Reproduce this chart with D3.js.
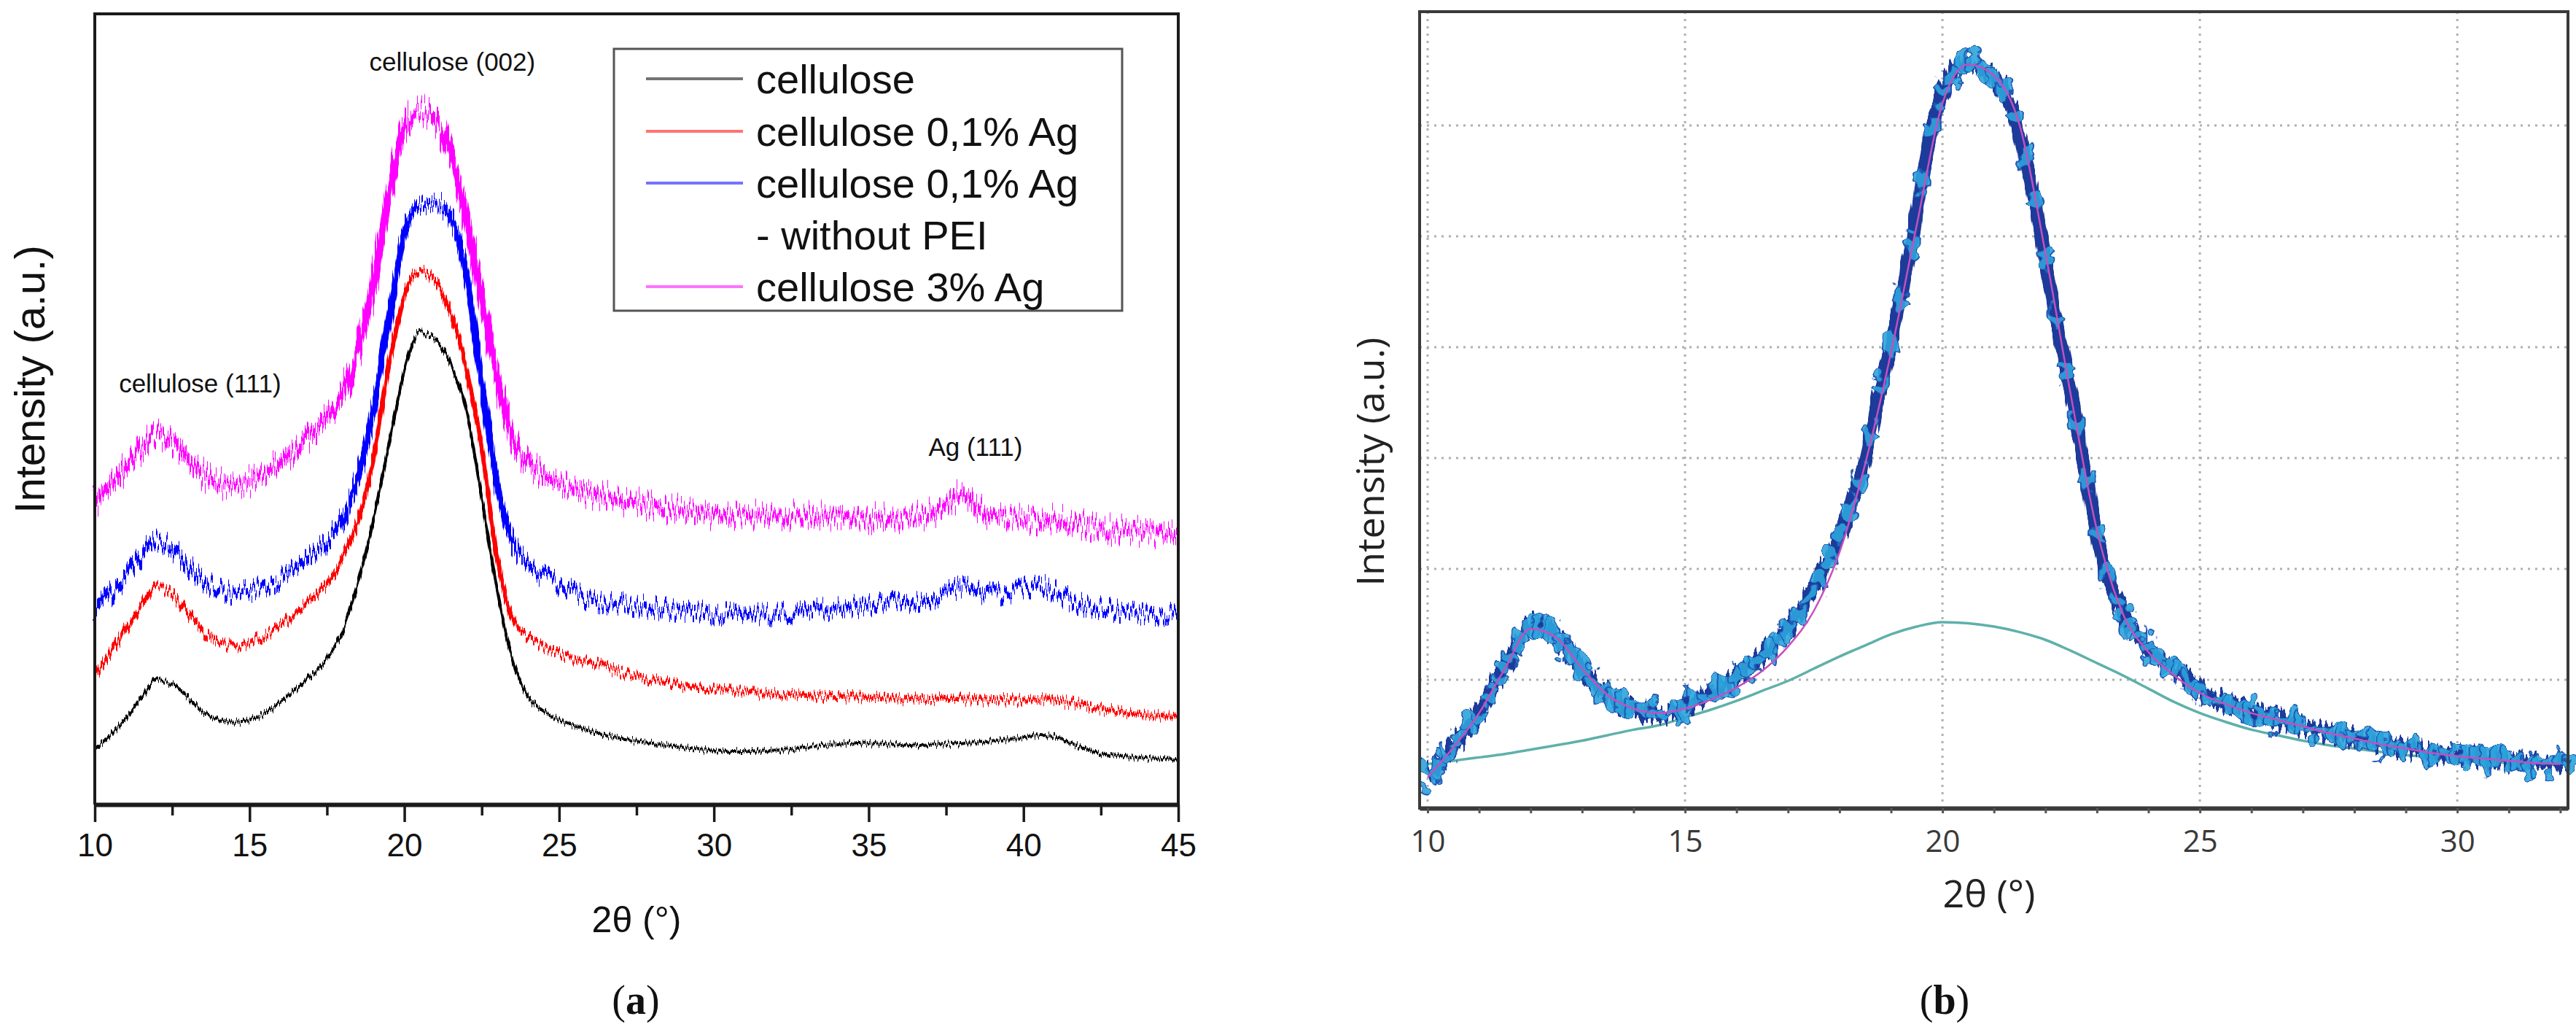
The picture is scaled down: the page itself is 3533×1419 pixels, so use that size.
<!DOCTYPE html>
<html>
<head>
<meta charset="utf-8">
<script src="https://cdn.jsdelivr.net/npm/d3@7"></script>
<style>
  html, body { margin: 0; padding: 0; background: #fff; }
  svg { display: block; }
</style>
</head>
<body>
<script>
// ---------- Data: panel (a), XRD patterns, 2θ sampled every 0.5° ----------
const twoThetaA = d3.range(20, 91).map((i) => i / 2); // 10 ... 45

const cellulose = [
  75, 95, 118, 146, 171, 165, 147, 127, 116, 113, 116, 125, 141, 158, 178, 201, 237, 303, 391, 493,
  595, 648, 638, 603, 540, 421, 293, 198, 148, 128, 116, 108, 101, 95, 91, 87, 84, 81, 78, 76,
  74, 73, 73, 73, 74, 76, 79, 81, 83, 84, 84, 83, 82, 81, 82, 83, 84, 85, 87, 89,
  92, 95, 93, 85, 76, 70, 67, 65, 64, 63, 62,
];
const celluloseAg01 = [
  178, 208, 241, 273, 298, 288, 263, 238, 223, 218, 223, 233, 246, 263, 281, 303, 338, 388, 473, 603,
  698, 731, 718, 673, 598, 488, 338, 253, 231, 218, 207, 200, 195, 189, 181, 175, 171, 167, 164, 161,
  158, 157, 155, 153, 151, 150, 149, 148, 148, 148, 147, 147, 146, 145, 145, 145, 145, 144, 144, 144,
  143, 144, 143, 140, 136, 131, 128, 125, 123, 121, 120,
];
const celluloseAg01NoPEI = [
  263, 288, 313, 341, 361, 351, 328, 308, 295, 290, 293, 301, 309, 323, 341, 361, 391, 448, 543, 663,
  783, 821, 825, 803, 728, 578, 438, 358, 328, 313, 302, 290, 281, 277, 275, 273, 270, 268, 266, 264,
  262, 261, 260, 260, 261, 263, 265, 267, 269, 271, 273, 275, 277, 280, 283, 291, 297, 293, 288, 291,
  297, 300, 293, 281, 273, 269, 266, 264, 262, 261, 260,
];
const celluloseAg3 = [
  416, 438, 463, 488, 506, 495, 473, 453, 441, 438, 443, 455, 468, 488, 510, 533, 563, 623, 713, 838,
  928, 952, 938, 888, 803, 693, 583, 503, 468, 451, 441, 433, 427, 422, 418, 414, 410, 406, 403, 400,
  398, 397, 396, 396, 396, 396, 396, 395, 395, 394, 393, 392, 392, 394, 400, 411, 425, 408, 395, 393,
  392, 391, 390, 387, 383, 379, 376, 375, 374, 373, 372,
];

const seriesNamesA = ['cellulose', 'cellulose 0,1% Ag', 'cellulose 0,1% Ag', 'cellulose 3% Ag'];
const seriesColorsA = ['#000000', '#ff0000', '#0000ff', '#ff00ff'];
const peakLabels = ['cellulose (111)', 'cellulose (002)', 'Ag (111)'];
const peakPositions = [13.4, 21.55, 38.45];
const peakHeights = [565, 1006, 478];
const ticksA = [10, 15, 20, 25, 30, 35, 40, 45];
const minorTicksA = [12.5, 17.5, 22.5, 27.5, 32.5, 37.5, 42.5];

// ---------- Data: panel (b), peak fit of cellulose, 2θ every 0.2° ----------
const twoThetaB = d3.range(50, 162).map((i) => i / 5); // 10.0 ... 32.2
const measured = [
  0.14, 0.21, 0.33, 0.45, 0.57, 0.70, 0.87, 1.04, 1.20, 1.38,
  1.50, 1.49, 1.43, 1.34, 1.23, 1.11, 0.99, 0.90, 0.83, 0.78,
  0.74, 0.71, 0.69, 0.69, 0.72, 0.77, 0.81, 0.86, 0.90, 0.95,
  1.02, 1.09, 1.17, 1.26, 1.36, 1.47, 1.59, 1.74, 1.90, 2.08,
  2.30, 2.55, 2.83, 3.22, 3.65, 4.02, 4.45, 4.95, 5.50, 5.98,
  6.30, 6.47, 6.55, 6.55, 6.50, 6.42, 6.32, 6.08, 5.72, 5.30,
  4.80, 4.25, 3.80, 3.32, 2.80, 2.30, 1.95, 1.70, 1.52, 1.39,
  1.28, 1.20, 1.13, 1.06, 0.97, 0.90, 0.85, 0.81, 0.78, 0.75,
  0.72, 0.69, 0.66, 0.63, 0.60, 0.58, 0.56, 0.54, 0.52, 0.50,
  0.48, 0.46, 0.44, 0.42, 0.40, 0.38, 0.37, 0.36, 0.34, 0.33,
  0.32, 0.31, 0.30, 0.29, 0.28, 0.27, 0.26, 0.25, 0.25, 0.24,
  0.24, 0.24,
];
const twoThetaFit = d3.range(20, 65).map((i) => i / 2); // 10 ... 32
const fitTotal = [
  0.12, 0.39, 0.70, 1.10, 1.46, 1.38, 1.10, 0.86, 0.74, 0.70,
  0.74, 0.82, 0.93, 1.08, 1.30, 1.62, 2.15, 2.95, 3.95, 5.10,
  6.20, 6.55, 6.45, 6.00, 4.85, 3.55, 2.35, 1.60, 1.25, 1.04,
  0.88, 0.78, 0.70, 0.64, 0.58, 0.52, 0.47, 0.42, 0.38, 0.34,
  0.31, 0.29, 0.27, 0.25, 0.24,
];
const amorphous = [
  0.24, 0.27, 0.30, 0.33, 0.37, 0.41, 0.45, 0.50, 0.55, 0.59,
  0.66, 0.73, 0.81, 0.90, 0.99, 1.10, 1.21, 1.31, 1.41, 1.48,
  1.52, 1.51, 1.48, 1.43, 1.36, 1.26, 1.15, 1.04, 0.92, 0.80,
  0.70, 0.62, 0.55, 0.50, 0.45, 0.41, 0.38, 0.35, 0.32, 0.30,
  0.28, 0.26, 0.25, 0.24, 0.23,
];
const ticksB = [10, 15, 20, 25, 30];
const gridB = [1, 2, 3, 4, 5, 6];

// ---------- Canvas ----------
const width = 3533;
const height = 1419;
const sans = '"Liberation Sans", Arial, sans-serif';

const svg = d3.select('body').append('svg')
  .attr('width', width)
  .attr('height', height)
  .style('background', '#fff');

// Detector-noise look: a vertical-only jitter filter on the traces (style only, data untouched)
const defs = svg.append('defs');
const addJitter = (id, freq, scale, seed) => {
  const f = defs.append('filter')
    .attr('id', id)
    .attr('filterUnits', 'userSpaceOnUse')
    .attr('x', 0).attr('y', 0).attr('width', width).attr('height', height);
  f.append('feTurbulence')
    .attr('type', 'fractalNoise')
    .attr('baseFrequency', freq)
    .attr('numOctaves', 2)
    .attr('seed', seed)
    .attr('result', 'raw');
  // R: stretched noise centred on 0.5, G: constant 0.5 (no horizontal shift)
  f.append('feColorMatrix')
    .attr('in', 'raw')
    .attr('type', 'matrix')
    .attr('values', '2.2 0 0 0 -0.6  0 0 0 0 0.5  0 0 0 0 0  0 0 0 0 1')
    .attr('result', 'noise');
  f.append('feDisplacementMap')
    .attr('in', 'SourceGraphic')
    .attr('in2', 'noise')
    .attr('scale', scale)
    .attr('xChannelSelector', 'G')
    .attr('yChannelSelector', 'R');
};
const noiseScales = [9, 15, 26, 36];
noiseScales.forEach((s, i) => addJitter(`jitter${i}`, '0.42 0.003', s, i + 3));
addJitter('jitterBand', '0.2 0.02', 20, 11);
addJitter('jitterDots', '0.05 0.05', 30, 17);

// ======================= Panel (a) =======================
const frameA = { left: 130, right: 1616, top: 19, bottom: 1103 };
const xA = d3.scaleLinear().domain([10, 45]).range([frameA.left, frameA.right]);
const yA = d3.scaleLinear().domain([0, 1084]).range([frameA.bottom, frameA.top]);

const panelA = svg.append('g').attr('class', 'panel-a');

const lineA = (values) => d3.line()
  .curve(d3.curveMonotoneX)
  .x((d, i) => xA(twoThetaA[i]))
  .y((d) => yA(d))(values);

const seriesA = [cellulose, celluloseAg01, celluloseAg01NoPEI, celluloseAg3];
const bandWidths = [4, 6, 9, 11];

panelA.append('g')
  .selectAll('path')
  .data(seriesA)
  .enter()
  .append('path')
  .attr('d', (d) => lineA(d))
  .attr('fill', 'none')
  .attr('stroke', (d, i) => seriesColorsA[i])
  .attr('stroke-width', (d, i) => bandWidths[i])
  .attr('stroke-linejoin', 'round')
  .attr('filter', (d, i) => `url(#jitter${i})`);

// Frame (left, top, right)
panelA.append('path')
  .attr('d', `M${frameA.left},${frameA.bottom}V${frameA.top}H${frameA.right}V${frameA.bottom}`)
  .attr('fill', 'none')
  .attr('stroke', '#1a1a1a')
  .attr('stroke-width', 4);

// X axis
const axisA = panelA.append('g')
  .attr('transform', `translate(0,${frameA.bottom})`)
  .call(d3.axisBottom(xA).tickValues(ticksA).tickSize(24).tickSizeOuter(0).tickPadding(16).tickFormat(d3.format('d')));
axisA.select('.domain').attr('stroke', '#1a1a1a').attr('stroke-width', 6);
axisA.selectAll('.tick line').attr('stroke', '#1a1a1a').attr('stroke-width', 3.5);
axisA.selectAll('.tick text')
  .style('font-family', sans)
  .style('font-size', '44px')
  .attr('fill', '#111');

const minorA = panelA.append('g')
  .attr('transform', `translate(0,${frameA.bottom})`)
  .call(d3.axisBottom(xA).tickValues(minorTicksA).tickSize(15).tickSizeOuter(0).tickFormat(''));
minorA.select('.domain').remove();
minorA.selectAll('.tick line').attr('stroke', '#1a1a1a').attr('stroke-width', 3.5);

// Axis titles
panelA.append('text')
  .attr('x', (frameA.left + frameA.right) / 2)
  .attr('y', 1278)
  .attr('text-anchor', 'middle')
  .style('font-family', sans)
  .style('font-size', '50px')
  .attr('fill', '#111')
  .text('2θ (°)');

panelA.append('text')
  .attr('transform', 'translate(40,520) rotate(-90)')
  .attr('text-anchor', 'middle')
  .attr('dominant-baseline', 'central')
  .style('font-family', sans)
  .style('font-size', '58px')
  .attr('fill', '#111')
  .text('Intensity (a.u.)');

// Peak annotations
panelA.append('g')
  .selectAll('text')
  .data(peakLabels)
  .enter()
  .append('text')
  .attr('x', (d, i) => xA(peakPositions[i]))
  .attr('y', (d, i) => yA(peakHeights[i]))
  .attr('text-anchor', 'middle')
  .style('font-family', sans)
  .style('font-size', '35px')
  .attr('fill', '#111')
  .text((d) => d);

// Legend
const legend = panelA.append('g').attr('class', 'legend');
legend.append('rect')
  .attr('x', 842)
  .attr('y', 67)
  .attr('width', 697)
  .attr('height', 359)
  .attr('fill', '#fff')
  .attr('stroke', '#555')
  .attr('stroke-width', 3);

const legendRows = [108, 180, 251, 393];
legendRows.forEach((rowY, i) => {
  legend.append('line')
    .attr('x1', 886)
    .attr('x2', 1019)
    .attr('y1', rowY)
    .attr('y2', rowY)
    .attr('stroke', seriesColorsA[i])
    .attr('stroke-opacity', 0.55)
    .attr('stroke-width', 4);
  legend.append('text')
    .attr('x', 1037)
    .attr('y', rowY + 20)
    .style('font-family', sans)
    .style('font-size', '56px')
    .attr('fill', '#111')
    .text(seriesNamesA[i]);
});
legend.append('text')
  .attr('x', 1037)
  .attr('y', 322 + 20)
  .style('font-family', sans)
  .style('font-size', '56px')
  .attr('fill', '#111')
  .text('- without PEI');

// Caption (a)
const capA = panelA.append('text')
  .attr('x', 872)
  .attr('y', 1390)
  .attr('text-anchor', 'middle')
  .style('font-family', '"Liberation Serif", "Times New Roman", serif')
  .style('font-size', '56px')
  .attr('fill', '#111');
capA.append('tspan').text('(');
capA.append('tspan').attr('font-weight', 'bold').text('a');
capA.append('tspan').text(')');

// ======================= Panel (b) =======================
const frameB = { left: 1947, right: 3522, top: 16, bottom: 1108 };
const xB = d3.scaleLinear().domain([9.844, 32.15]).range([frameB.left, frameB.right]);
const yB = d3.scaleLinear().domain([-0.158, 7.026]).range([frameB.bottom, frameB.top]);
const sansB = '"Open Sans", "Noto Sans", sans-serif';

const panelB = svg.append('g').attr('class', 'panel-b');

// Dotted grid
panelB.append('g')
  .selectAll('line')
  .data(ticksB)
  .enter()
  .append('line')
  .attr('x1', (d) => xB(d))
  .attr('x2', (d) => xB(d))
  .attr('y1', frameB.top)
  .attr('y2', frameB.bottom)
  .attr('stroke', '#b0b0b0')
  .attr('stroke-width', 3)
  .attr('stroke-dasharray', '3,7');

panelB.append('g')
  .selectAll('line')
  .data(gridB)
  .enter()
  .append('line')
  .attr('x1', frameB.left)
  .attr('x2', frameB.right)
  .attr('y1', (d) => yB(d))
  .attr('y2', (d) => yB(d))
  .attr('stroke', '#b0b0b0')
  .attr('stroke-width', 3)
  .attr('stroke-dasharray', '3,7');

// Amorphous contribution
const lineFit = d3.line()
  .curve(d3.curveMonotoneX)
  .x((d, i) => xB(twoThetaFit[i]))
  .y((d) => yB(d));

panelB.append('path')
  .attr('d', lineFit(amorphous))
  .attr('fill', 'none')
  .attr('stroke', '#5fb0aa')
  .attr('stroke-width', 3.5);

// Measured points
const lineMeasured = d3.line()
  .curve(d3.curveMonotoneX)
  .x((d, i) => xB(twoThetaB[i]))
  .y((d) => yB(d));

panelB.append('path')
  .attr('d', lineMeasured(measured))
  .attr('fill', 'none')
  .attr('stroke', '#1f3a9a')
  .attr('stroke-width', 18)
  .attr('stroke-linejoin', 'round')
  .attr('filter', 'url(#jitterBand)');

panelB.append('g')
  .attr('filter', 'url(#jitterDots)')
  .selectAll('circle')
  .data(measured)
  .enter()
  .append('circle')
  .attr('cx', (d, i) => xB(twoThetaB[i]))
  .attr('cy', (d) => yB(d))
  .attr('r', 12)
  .attr('fill', '#2ba4dc')
  .attr('fill-opacity', 0.9)
  .attr('stroke', '#2358b5')
  .attr('stroke-width', 2);

// Total fit
panelB.append('path')
  .attr('d', lineFit(fitTotal))
  .attr('fill', 'none')
  .attr('stroke', '#c64fbf')
  .attr('stroke-width', 2.5);

// Frame
panelB.append('rect')
  .attr('x', frameB.left)
  .attr('y', frameB.top)
  .attr('width', frameB.right - frameB.left)
  .attr('height', frameB.bottom - frameB.top)
  .attr('fill', 'none')
  .attr('stroke', '#3a3a3a')
  .attr('stroke-width', 4);

const axisB = panelB.append('g')
  .attr('transform', `translate(0,${frameB.bottom})`)
  .call(d3.axisBottom(xB).tickValues(d3.range(10, 33)).tickSize(7).tickSizeOuter(0).tickFormat(''));
axisB.select('.domain').attr('stroke', '#3a3a3a').attr('stroke-width', 6);
axisB.selectAll('.tick line').attr('stroke', '#555').attr('stroke-width', 3);

const labelsB = panelB.append('g')
  .attr('transform', `translate(0,${frameB.bottom})`)
  .call(d3.axisBottom(xB).tickValues(ticksB).tickSize(0).tickPadding(30).tickFormat(d3.format('d')));
labelsB.select('.domain').remove();
labelsB.selectAll('.tick text')
  .style('font-family', sansB)
  .style('font-size', '42px')
  .attr('fill', '#3a3a3a');

panelB.append('text')
  .attr('x', 2728)
  .attr('y', 1244)
  .attr('text-anchor', 'middle')
  .style('font-family', sansB)
  .style('font-size', '52px')
  .attr('fill', '#222')
  .text('2θ (°)');

panelB.append('text')
  .attr('transform', 'translate(1877,633) rotate(-90)')
  .attr('text-anchor', 'middle')
  .attr('dominant-baseline', 'central')
  .style('font-family', sansB)
  .style('font-size', '52px')
  .attr('fill', '#222')
  .text('Intensity (a.u.)');

const capB = panelB.append('text')
  .attr('x', 2667)
  .attr('y', 1390)
  .attr('text-anchor', 'middle')
  .style('font-family', '"Liberation Serif", "Times New Roman", serif')
  .style('font-size', '56px')
  .attr('fill', '#111');
capB.append('tspan').text('(');
capB.append('tspan').attr('font-weight', 'bold').text('b');
capB.append('tspan').text(')');
</script>
</body>
</html>
